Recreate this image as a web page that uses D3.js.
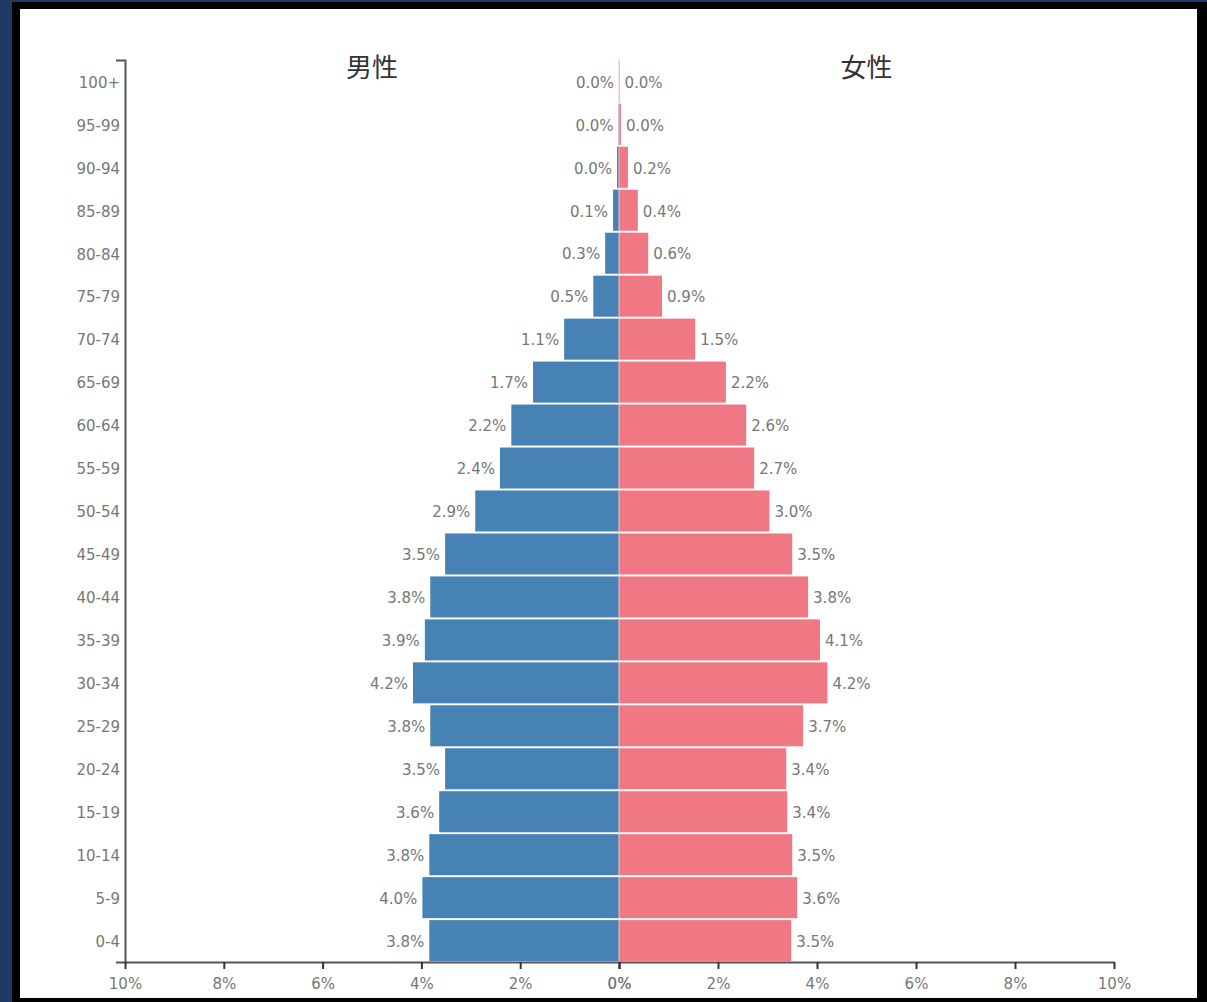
<!DOCTYPE html>
<html><head><meta charset="utf-8">
<script src="https://cdn.jsdelivr.net/npm/d3@7"></script>
<style>
html,body{margin:0;padding:0;background:#1f3864;}
svg{display:block;}
</style></head>
<body>
<svg id="chart" width="1207" height="1002"></svg>
<script>
const ageGroups = ["100+","95-99","90-94","85-89","80-84","75-79","70-74","65-69","60-64","55-59","50-54","45-49","40-44","35-39","30-34","25-29","20-24","15-19","10-14","5-9","0-4"];
const maleValues = [0.0,0.01,0.04,0.12,0.28,0.52,1.11,1.74,2.18,2.41,2.91,3.52,3.82,3.93,4.17,3.82,3.52,3.64,3.84,3.98,3.84];
const femaleValues = [0.01,0.04,0.18,0.38,0.59,0.87,1.54,2.16,2.57,2.73,3.04,3.50,3.82,4.06,4.21,3.72,3.38,3.40,3.50,3.60,3.48];
const xTicks = [0,2,4,6,8,10];
const sideTitles = ["男性","女性"];

const svg = d3.select("#chart");
// frame
svg.append("rect").attr("x",12).attr("y",2).attr("width",1195).attr("height",1000).attr("fill","#000");
svg.append("rect").attr("x",20).attr("y",9).attr("width",1177).attr("height",989).attr("fill","#fff");

const x0 = 619, xL = 125, xR = 1114, yTop = 60, yBot = 962;
const xMale = d3.scaleLinear().domain([0,10]).range([x0,xL]);
const xFemale = d3.scaleLinear().domain([0,10]).range([x0,xR]);
const y = d3.scaleBand().domain(ageGroups).range([yTop,yBot]).paddingInner(0.045).paddingOuter(0.02);

const font = "'DejaVu Sans', Verdana, sans-serif";
const textCol = "#777";
const fmt = v => v.toFixed(1) + "%";

// male bars
svg.append("g").selectAll("rect").data(ageGroups).join("rect")
  .attr("x",(d,i)=>xMale(maleValues[i]))
  .attr("y",d=>y(d))
  .attr("width",(d,i)=>x0 - xMale(maleValues[i]))
  .attr("height",y.bandwidth())
  .attr("fill","#4682b4");
// female bars
svg.append("g").selectAll("rect").data(ageGroups).join("rect")
  .attr("x",x0)
  .attr("y",d=>y(d))
  .attr("width",(d,i)=>xFemale(femaleValues[i]) - x0)
  .attr("height",y.bandwidth())
  .attr("fill","#f07884");

// center line
svg.append("line").attr("x1",x0).attr("x2",x0).attr("y1",yTop).attr("y2",yBot)
  .attr("stroke","#f4c0c6").attr("stroke-width",1);

// labels
svg.append("g").selectAll("text").data(ageGroups).join("text")
  .attr("x",(d,i)=>xMale(maleValues[i]) - 5)
  .attr("y",d=>y(d)+y.bandwidth()/2+1)
  .attr("dy","0.35em").attr("text-anchor","end")
  .attr("font-family",font).attr("font-size",15).attr("fill",textCol)
  .text((d,i)=>fmt(maleValues[i]));
svg.append("g").selectAll("text").data(ageGroups).join("text")
  .attr("x",(d,i)=>xFemale(femaleValues[i]) + 5)
  .attr("y",d=>y(d)+y.bandwidth()/2+1)
  .attr("dy","0.35em").attr("text-anchor","start")
  .attr("font-family",font).attr("font-size",15).attr("fill",textCol)
  .text((d,i)=>fmt(femaleValues[i]));

// axes
function styleAxis(g){
  g.select(".domain").attr("stroke","#555").attr("stroke-width",2);
  g.selectAll(".tick line").attr("stroke","#333").attr("stroke-width",2);
  g.selectAll(".tick text").attr("font-family",font).attr("font-size",15).attr("fill",textCol);
}
const yAxis = svg.append("g").attr("transform",`translate(${xL},0)`)
  .call(d3.axisLeft(y).tickSizeInner(0).tickSizeOuter(9).tickPadding(5));
styleAxis(yAxis);
yAxis.selectAll(".tick text").attr("dy","0.42em");

const axM = svg.append("g").attr("transform",`translate(0,${yBot})`)
  .call(d3.axisBottom(xMale).tickValues(xTicks).tickSizeInner(7).tickSizeOuter(0).tickPadding(9).tickFormat(d=>d+"%"));
styleAxis(axM);
const axF = svg.append("g").attr("transform",`translate(0,${yBot})`)
  .call(d3.axisBottom(xFemale).tickValues(xTicks).tickSizeInner(7).tickSizeOuter(0).tickPadding(9).tickFormat(d=>d+"%"));
styleAxis(axF);

// titles
svg.append("g").selectAll("text").data(sideTitles).join("text")
  .attr("x",(d,i)=> i===0 ? (xL+x0)/2 : (x0+xR)/2)
  .attr("y",68).attr("dy","0.35em").attr("text-anchor","middle")
  .attr("font-family","'Noto Sans CJK JP', sans-serif").attr("font-size",26).attr("fill","#333")
  .text(d=>d);
</script>
</body></html>
